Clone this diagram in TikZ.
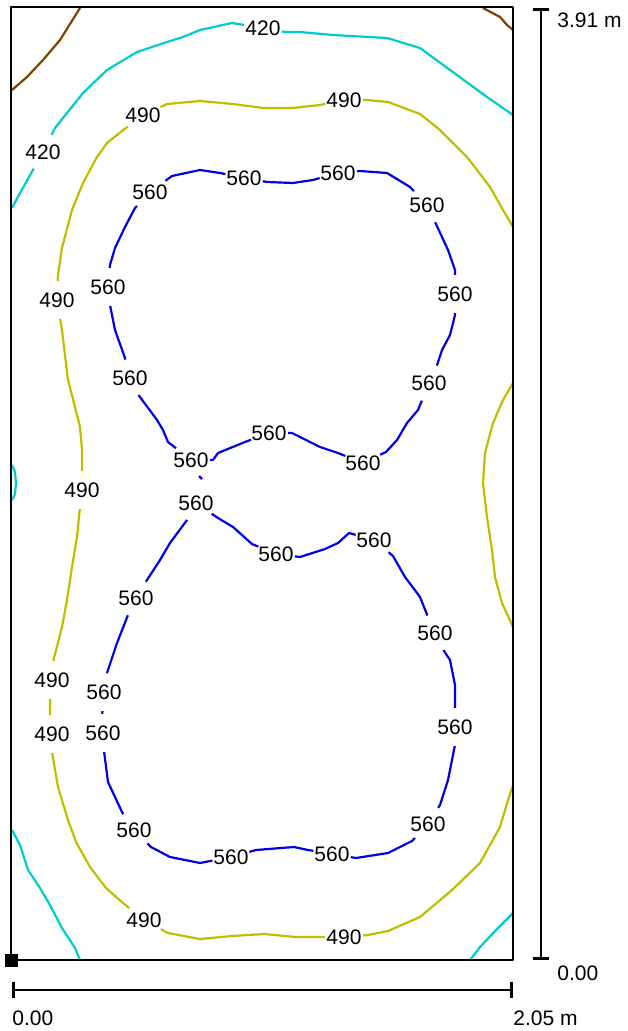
\documentclass[tikz,border=0pt]{standalone}
\usepackage{fontspec}
\setmainfont{Liberation Sans}
\usetikzlibrary{arrows.meta}

\definecolor{isobrown}{RGB}{128,64,0}
\definecolor{isocyan}{RGB}{0,204,204}
\definecolor{isoyellow}{RGB}{191,191,0}
\definecolor{isoblue}{RGB}{0,0,230}

\begin{document}
\begin{tikzpicture}[x=0.5pt,y=-0.5pt,line join=round,
  iso/.style={line width=1.1pt},
  lbl/.style={circle,fill=white,inner sep=0pt,font=\fontsize{10.5}{12}\selectfont},
  dimtext/.style={inner sep=0pt,font=\fontsize{10.5}{12}\selectfont},
  dimline/.style={line width=1.4pt,{Bar[width=8pt]}-{Bar[width=8pt]}}]
  \useasboundingbox (0,0) rectangle (627,1031);
  % 350
  \draw[iso,isobrown] (12,90) -- (27,77) -- (43,60) -- (60,40) -- (80,8);
  \draw[iso,isobrown] (483,8) -- (500,17) -- (507,25) -- (513,30);
  % 420
  \draw[iso,isocyan] (12,208) -- (20,193) -- (33,170) -- (43,152) -- (55,128) -- (67,113) -- (83,93)
    -- (107,70) -- (137,52) -- (167,42) -- (183,37) -- (200,30) -- (232,23) -- (263,28) -- (285,32)
    -- (300,32) -- (333,35) -- (387,38) -- (420,48) -- (450,70) -- (487,97) -- (513,115);
  \draw[iso,isocyan] (12,465) -- (15,472) -- (16,483) -- (15,494) -- (12,500);
  \draw[iso,isocyan] (12,830) -- (20,845) -- (28,870) -- (40,888) -- (50,905) -- (62,928) -- (75,948) -- (80,960);
  \draw[iso,isocyan] (470,960) -- (480,947) -- (496,930) -- (513,913);
  % 490
  \draw[iso,isoyellow] (513,227) -- (503,210) -- (490,187) -- (467,157) -- (440,130) -- (420,114)
    -- (388,102) -- (367,100) -- (344,100) -- (320,105) -- (293,108) -- (263,108) -- (233,104)
    -- (200,101) -- (167,104) -- (143,115) -- (122,131) -- (107,143) -- (97,157) -- (83,183)
    -- (72,210) -- (62,248) -- (58,275) -- (57,300) -- (62,330) -- (68,380) -- (75,407) -- (80,427)
    -- (82,450) -- (82,490) -- (80,507) -- (77,537) -- (72,567) -- (67,600) -- (62,627) -- (53,662)
    -- (52,680) -- (50,697) -- (50,717) -- (52,734) -- (52,752) -- (58,787) -- (68,820) -- (76,842)
    -- (90,867) -- (106,888) -- (123,903) -- (144,920) -- (168,933) -- (200,939) -- (232,936)
    -- (264,934) -- (296,937) -- (344,937) -- (368,935) -- (388,931) -- (420,917) -- (452,890)
    -- (480,863) -- (500,827) -- (508,800) -- (513,785);
  \draw[iso,isoyellow] (513,383) -- (503,400) -- (493,423) -- (485,453) -- (483,483) -- (487,517)
    -- (492,550) -- (495,577) -- (502,603) -- (513,627);
  % 560
  \draw[iso,isoblue] (191,460) -- (213,460) -- (218,453) -- (245,442) -- (269,433) -- (292,433)
    -- (300,437) -- (320,447) -- (338,453) -- (363,463) -- (386,452) -- (397,440) -- (407,423)
    -- (418,410) -- (429,383) -- (437,365) -- (442,350) -- (450,335) -- (455,315) -- (455,270)
    -- (448,250) -- (435,222) -- (427,205) -- (410,187) -- (387,173) -- (360,171) -- (338,173)
    -- (313,180) -- (293,183) -- (267,182) -- (244,178) -- (220,173) -- (200,170) -- (172,176)
    -- (150,192) -- (135,208) -- (125,227) -- (115,248) -- (110,265) -- (108,287) -- (110,305)
    -- (115,330) -- (125,358) -- (130,378) -- (137,393) -- (157,420) -- (163,430) -- (168,442) -- cycle;
  \draw[iso,isoblue] (196,503) -- (218,518) -- (233,527) -- (252,544) -- (276,554) -- (300,557)
    -- (325,549) -- (338,543) -- (349,533) -- (374,540) -- (393,556) -- (405,577) -- (420,597)
    -- (428,617) -- (435,633) -- (442,648) -- (450,660) -- (455,685) -- (455,745) -- (448,780)
    -- (440,805) -- (428,824) -- (412,841) -- (388,853) -- (356,858) -- (332,854) -- (308,850)
    -- (294,847) -- (256,850) -- (231,857) -- (200,863) -- (170,857) -- (151,847) -- (134,830)
    -- (122,812) -- (108,782) -- (104,751) -- (102,717) -- (104,692) -- (107,673) -- (117,643)
    -- (128,615) -- (136,598) -- (147,580) -- (160,560) -- (170,543) -- (187,520) -- cycle;
  % labels
  \node[lbl] (a1) at (263,28) {420};
  \node[lbl] (a2) at (43,152) {420};
  \node[lbl] (b1) at (344,100) {490};
  \node[lbl] (b2) at (143,115) {490};
  \node[lbl] (b3) at (57,300) {490};
  \node[lbl] (b4) at (82,490) {490};
  \node[lbl] (b5) at (52,680) {490};
  \node[lbl] (b6) at (52,734) {490};
  \node[lbl] (b7) at (144,920) {490};
  \node[lbl] (b8) at (344,937) {490};
  \node[lbl] (u1) at (150,192) {560};
  \node[lbl] (u2) at (244,178) {560};
  \node[lbl] (u3) at (338,173) {560};
  \node[lbl] (u4) at (427,205) {560};
  \node[lbl] (u5) at (455,294) {560};
  \node[lbl] (u6) at (429,383) {560};
  \node[lbl] (u7) at (363,463) {560};
  \node[lbl] (u8) at (269,433) {560};
  \node[lbl] (u9) at (191,460) {560};
  \node[lbl] (u10) at (108,287) {560};
  \node[lbl] (u11) at (130,378) {560};
  \node[lbl] (d1) at (196,503) {560};
  \node[lbl] (d2) at (276,554) {560};
  \node[lbl] (d3) at (374,540) {560};
  \node[lbl] (d4) at (435,633) {560};
  \node[lbl] (d5) at (455,727) {560};
  \node[lbl] (d6) at (428,824) {560};
  \node[lbl] (d7) at (332,854) {560};
  \node[lbl] (d8) at (231,857) {560};
  \node[lbl] (d9) at (134,830) {560};
  \node[lbl] (d10) at (103,733) {560};
  \node[lbl] (d11) at (104,692) {560};
  \node[lbl] (d12) at (136,598) {560};
  \draw[iso,isoblue] (199,476) -- (202,479);
  % room and scales
  \draw[line width=1.2pt] (11,7) rectangle (513,960);
  \node[fill=black,inner sep=0pt,minimum size=6.5pt] (origin) at (11,960) {};
  \coordinate (h0) at (12,990);
  \coordinate (h1) at (513,990);
  \coordinate (v0) at (541,960);
  \coordinate (v1) at (541,8);
  \draw[dimline] (h0) -- (h1);
  \draw[dimline] (v0) -- (v1);
  \node[dimtext,anchor=west] (xmin) at (12,1018) {0.00};
  \node[dimtext,anchor=west] (xmax) at (513,1018) {2.05 m};
  \node[dimtext,anchor=west] (ymin) at (557,973) {0.00};
  \node[dimtext,anchor=west] (ymax) at (557,20) {3.91 m};
\end{tikzpicture}
\end{document}
